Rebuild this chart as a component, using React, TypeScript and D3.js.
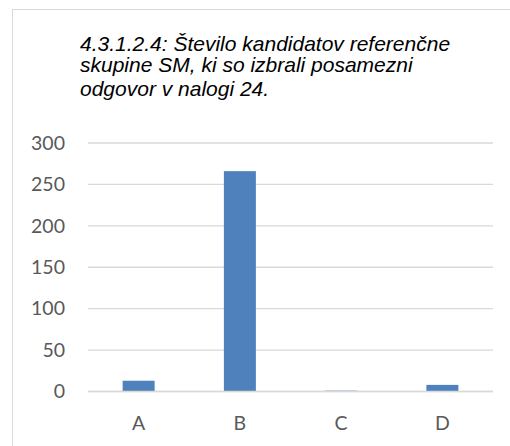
import { scaleBand, scaleLinear } from "d3";

const categories = ["A", "B", "C", "D"];
const values = [13, 266, 1, 8];
const yTicks = [0, 50, 100, 150, 200, 250, 300];
const titleLines = [
  "4.3.1.2.4: Število kandidatov referenčne",
  "skupine SM, ki so izbrali posamezni",
  "odgovor v nalogi 24.",
];

export default function App() {
  const width = 510;
  const height = 446;
  const left = 88;
  const right = 493;
  const top = 143;
  const bottom = 391.5;

  const x = scaleBand().domain(categories).range([left, right]).paddingInner(0.684).paddingOuter(0.342);
  const y = scaleLinear().domain([0, 300]).range([bottom, top]);

  return (
    <svg
      width={width}
      height={height}
      style={{ position: "absolute", left: 0, top: 0, background: "#fff" }}
    >
      <rect x={12.5} y={9.5} width={520} height={460} fill="#fff" stroke="#d9d9d9" />
      <g fontFamily="'Liberation Sans', Arial, sans-serif" fontStyle="italic" fontSize={21} fill="#000">
        {titleLines.map((t, i) => (
          <text key={i} x={80} y={[51, 72, 96][i]}>
            {t}
          </text>
        ))}
      </g>
      {yTicks.map((t) => (
        <g key={t}>
          <line x1={left} x2={right} y1={y(t)} y2={y(t)} stroke="#d9d9d9" strokeWidth={1.3} />
          <text
            x={65}
            y={y(t)}
            dy="0.35em"
            textAnchor="end"
            fontFamily="Lato, 'Open Sans', sans-serif"
            fontSize={19.5}
            fill="#595959"
          >
            {t}
          </text>
        </g>
      ))}
      {categories.map((c, i) => (
        <rect
          key={c}
          x={x(c)}
          y={y(values[i])}
          width={x.bandwidth()}
          height={bottom - y(values[i])}
          fill="#4f81bd"
        />
      ))}
      <line x1={left} x2={right} y1={bottom} y2={bottom} stroke="#d9d9d9" strokeWidth={1.3} />
      {categories.map((c) => (
        <text
          key={c}
          x={(x(c) ?? 0) + x.bandwidth() / 2}
          y={430}
          textAnchor="middle"
          fontFamily="Lato, 'Open Sans', sans-serif"
          fontSize={19.5}
          fill="#595959"
        >
          {c}
        </text>
      ))}
    </svg>
  );
}
